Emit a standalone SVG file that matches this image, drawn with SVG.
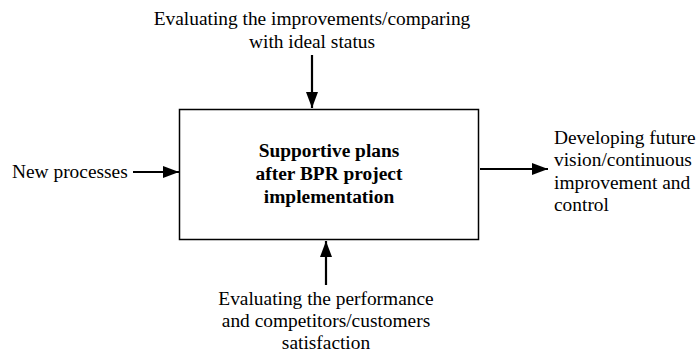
<svg xmlns="http://www.w3.org/2000/svg" width="697" height="354" viewBox="0 0 697 354">
<style>
text { font-family: 'Liberation Serif', 'DejaVu Serif', serif; font-size: 19.4px; fill: #000; }
.c { text-anchor: middle; }
.b { font-weight: bold; }
.box { fill: #fff; stroke: #000; stroke-width: 1.5; }
.conn { stroke: #000; stroke-width: 2.2; fill: none; marker-end: url(#ah); }
</style>
<defs>
<marker id="ah" viewBox="0 0 16 12" refX="16" refY="6" markerWidth="16" markerHeight="12" markerUnits="userSpaceOnUse" orient="auto">
<path d="M0,0 L16,6 L0,12 Z" fill="#000"/>
</marker>
</defs>
<g id="connectors">
<line class="conn" x1="312" y1="55" x2="312" y2="108"/>
<line class="conn" x1="326" y1="285" x2="326" y2="241"/>
<line class="conn" x1="133" y1="172" x2="179" y2="172"/>
<line class="conn" x1="480" y1="169" x2="548" y2="169"/>
</g>
<g id="main">
<rect class="box" x="179.5" y="109.5" width="299" height="130"/>
<text class="c b" x="329" y="157">Supportive plans</text>
<text class="c b" x="329" y="180">after BPR project</text>
<text class="c b" x="329" y="203">implementation</text>
</g>
<g id="control">
<text class="c" x="312" y="25">Evaluating the improvements/comparing</text>
<text class="c" x="312" y="48">with ideal status</text>
</g>
<g id="mechanism">
<text class="c" x="326" y="305">Evaluating the performance</text>
<text class="c" x="326" y="327">and competitors/customers</text>
<text class="c" x="326" y="349">satisfaction</text>
</g>
<g id="input">
<text x="12" y="178">New processes</text>
</g>
<g id="output">
<text x="554" y="144">Developing future</text>
<text x="554" y="166">vision/continuous</text>
<text x="554" y="189">improvement and</text>
<text x="554" y="211">control</text>
</g>
</svg>
